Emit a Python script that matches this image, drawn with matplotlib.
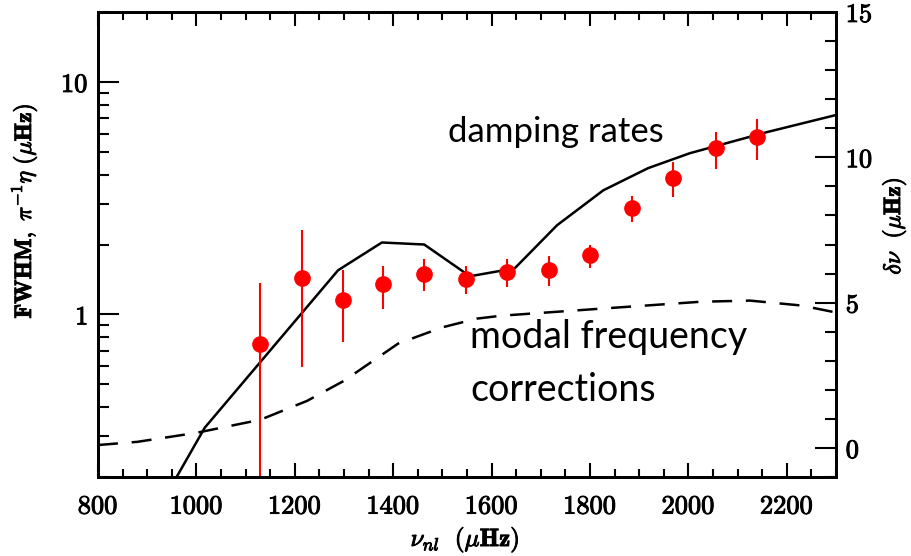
import matplotlib
matplotlib.use("Agg")
import matplotlib.pyplot as plt
import matplotlib.patheffects as pe
from matplotlib.ticker import FixedLocator, MultipleLocator, FuncFormatter, NullFormatter
import numpy as np

plt.rcParams['mathtext.fontset'] = 'cm'

# Observed FWHM data (red points)
freq_obs = [1129, 1215, 1298, 1379, 1463, 1548, 1631, 1717, 1800, 1885, 1969, 2056, 2139]
fwhm_obs = [0.743, 1.44, 1.16, 1.35, 1.50, 1.42, 1.52, 1.55, 1.80, 2.86, 3.86, 5.19, 5.79]
fwhm_hi = [1.37, 2.30, 1.56, 1.61, 1.73, 1.61, 1.74, 1.78, 2.00, 3.23, 4.52, 6.09, 6.93]
fwhm_lo = [0.10, 0.597, 0.765, 1.06, 1.26, 1.22, 1.31, 1.32, 1.58, 2.49, 3.19, 4.22, 4.61]

# Model damping rates (solid line)
freq_damp = [940, 1017, 1288, 1377, 1463, 1556, 1647, 1733, 1827, 1918, 2003, 2160, 2300]
damp_rate = [0.169, 0.326, 1.55, 2.04, 2.00, 1.46, 1.58, 2.42, 3.42, 4.26, 4.94, 6.09, 7.21]

# Modal frequency corrections (dashed line, right axis)
freq_corr = [800, 880, 1000, 1130, 1225, 1300, 1410, 1500, 1570, 1620, 1820, 2025, 2125, 2230, 2300]
delta_nu = [0.10, 0.21, 0.52, 0.97, 1.62, 2.31, 3.59, 4.15, 4.45, 4.55, 4.79, 5.03, 5.07, 4.90, 4.66]

fig = plt.figure(figsize=(9.12, 5.56), dpi=100)
ax = fig.add_axes([98/912, 1-477/556, (836-98)/912, (477-12)/556])
ax2 = ax.twinx()

ax.set_yscale('log')
ax.set_xlim(800, 2300)
ax.set_ylim(0.2, 20)
ax2.set_ylim(-1, 15)

ax.plot(freq_damp, damp_rate, color='black', lw=1.8, zorder=3)
ax2.plot(freq_corr, delta_nu, color='black', lw=1.8, dashes=(8, 5.5))

yerr = [np.array(fwhm_obs) - np.array(fwhm_lo), np.array(fwhm_hi) - np.array(fwhm_obs)]
ax.errorbar(freq_obs, fwhm_obs, yerr=yerr, fmt='o', color='red', ms=11,
            elinewidth=1.5, capsize=0, zorder=4)

mfmt = FuncFormatter(lambda v, p: r'$%d$' % int(round(v)))

ax.xaxis.set_major_locator(MultipleLocator(200))
ax.xaxis.set_minor_locator(MultipleLocator(50))
ax.xaxis.set_major_formatter(mfmt)
ax.yaxis.set_major_locator(FixedLocator([1, 10]))
ax.yaxis.set_minor_locator(FixedLocator([v * d for d in [0.1, 1, 10] for v in range(2, 10)]))
ax.yaxis.set_major_formatter(mfmt)
ax.yaxis.set_minor_formatter(NullFormatter())

ax2.yaxis.set_major_locator(MultipleLocator(5))
ax2.yaxis.set_minor_locator(MultipleLocator(1))
ax2.yaxis.set_major_formatter(mfmt)

ax.tick_params(axis='x', which='both', direction='in', top=True, labelsize=19, pad=12, width=1.5)
ax.tick_params(axis='x', which='major', length=10)
ax.tick_params(axis='x', which='minor', length=6)
ax.tick_params(axis='y', which='both', direction='in', right=False, labelsize=19, pad=7, width=1.5)
ax.tick_params(axis='y', which='major', length=15)
ax.tick_params(axis='y', which='minor', length=8)
ax2.tick_params(axis='y', which='both', direction='in', labelsize=19, pad=7, width=1.5)
ax2.tick_params(axis='y', which='major', length=15)
ax2.tick_params(axis='y', which='minor', length=8)

for a in (ax, ax2):
    for s in a.spines.values():
        s.set_linewidth(2)

thick = [pe.withStroke(linewidth=0.7, foreground='black')]
fig.canvas.draw()
for lbl in ax.get_xticklabels() + ax.get_yticklabels() + ax2.get_yticklabels():
    lbl.set_path_effects(thick)

t1 = fig.text(24/912, 1-211/556, r'$\mathbf{FWHM,}\ \pi^{-1}\eta\ (\mu\mathbf{Hz})$', rotation=90,
              ha='center', va='center', fontsize=17)
t2 = fig.text(894/912, 1-226/556, r'$\delta\nu\ \ (\mu\mathbf{Hz})$', rotation=90,
              ha='center', va='center', fontsize=17)
t3 = fig.text(465/912, 1-540/556, r'$\nu_{nl}\ \ (\mu\mathbf{Hz})$',
              ha='center', va='center', fontsize=18)
for t in (t1, t2, t3):
    t.set_path_effects(thick)

fig.text(448/912, 1-142/556, 'damping rates', family='Lato', fontsize=25,
         ha='left', va='baseline')
fig.text(470/912, 1-348/556, 'modal frequency', family='Lato', fontsize=27,
         ha='left', va='baseline')
fig.text(470/912, 1-401/556, 'corrections', family='Lato', fontsize=27,
         ha='left', va='baseline')

fig.savefig('out.png', dpi=100)
